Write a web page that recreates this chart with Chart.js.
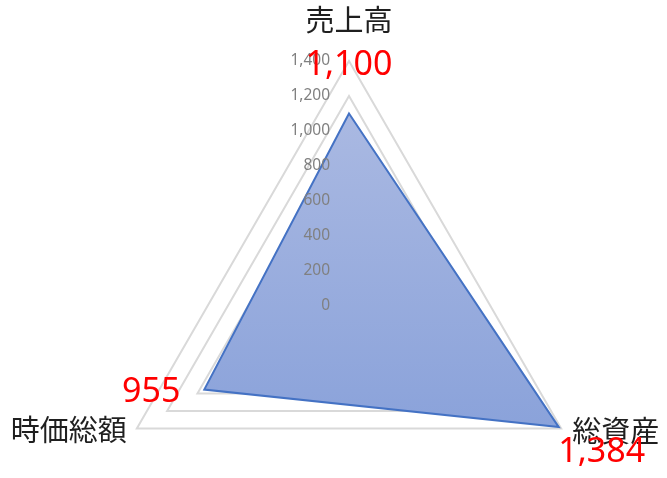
<!DOCTYPE html>
<html lang="ja">

<head>
    <meta charset="UTF-8">
    <title>Radar - 売上高 / 総資産 / 時価総額</title>
    <script src="https://cdn.jsdelivr.net/npm/chart.js@4.4.1/dist/chart.umd.min.js"></script>
    <style>
        html, body {
            margin: 0;
            padding: 0;
            background: #ffffff;
            overflow: hidden;
        }

        #wrap {
            position: relative;
            width: 667px;
            height: 612px;
        }
    </style>
</head>

<body>
    <div id="wrap">
        <canvas id="radarChart"></canvas>
    </div>

    <script>
        // data
        const categories = ['売上高', '総資産', '時価総額'];
        const values = [1100, 1384, 955];
        const tickValues = [0, 200, 400, 600, 800, 1000, 1200, 1400];

        const fmt = v => v.toLocaleString('en-US');

        // label placement relative to the axis points (layout only)
        const catLabelStyle = [
            { dx: 0, dy: -41, align: 'center' },
            { dx: 11, dy: 2, align: 'left' },
            { dx: -10, dy: 1, align: 'right' }
        ];
        const valueLabelStyle = [
            { dx: 0, dy: -48 },
            { dx: 43, dy: 25 },
            { dx: -53, dy: 3 }
        ];

        // custom text drawing: Excel-style tick labels, category names and red value labels
        const labelPlugin = {
            id: 'excelLabels',
            afterDatasetsDraw(chart) {
                const ctx = chart.ctx;
                const r = chart.scales.r;
                ctx.save();

                // tick labels, right aligned left of the vertical axis
                ctx.font = '15.5px "Noto Sans", sans-serif';
                ctx.fillStyle = '#808080';
                ctx.textAlign = 'right';
                ctx.textBaseline = 'middle';
                tickValues.forEach(v => {
                    const y = r.yCenter - r.getDistanceFromCenterForValue(v);
                    ctx.fillText(fmt(v), r.xCenter - 19, y);
                });

                // category names
                ctx.font = '29px "Noto Sans CJK JP", sans-serif';
                ctx.fillStyle = '#1f1f1f';
                categories.forEach((c, i) => {
                    const p = r.getPointPosition(i, r.drawingArea);
                    const s = catLabelStyle[i];
                    ctx.textAlign = s.align;
                    ctx.fillText(c, p.x + s.dx, p.y + s.dy);
                });

                // value labels
                ctx.font = '34px "Noto Sans", sans-serif';
                ctx.fillStyle = '#ff0000';
                ctx.textAlign = 'center';
                values.forEach((v, i) => {
                    const p = r.getPointPositionForValue(i, v);
                    const s = valueLabelStyle[i];
                    ctx.fillText(fmt(v), p.x + s.dx, p.y + s.dy);
                });

                ctx.restore();
            }
        };

        const ctxRadar = document.getElementById('radarChart').getContext('2d');
        const radarChart = new Chart(ctxRadar, {
            type: 'radar',
            data: {
                labels: categories,
                datasets: [{
                    data: values,
                    borderColor: '#4472C4',
                    borderWidth: 2,
                    pointRadius: 0,
                    fill: true,
                    backgroundColor: context => {
                        const area = context.chart.chartArea;
                        if (!area) return '#97aadc';
                        const g = context.chart.ctx.createLinearGradient(0, area.top + 50, 0, area.top + 370);
                        g.addColorStop(0, '#aab9e2');
                        g.addColorStop(1, '#8aa2da');
                        return g;
                    }
                }]
            },
            options: {
                responsive: true,
                maintainAspectRatio: false,
                animation: false,
                layout: {
                    padding: { left: 104, right: 73, top: 61, bottom: 61 }
                },
                plugins: {
                    legend: { display: false },
                    tooltip: { enabled: false }
                },
                scales: {
                    r: {
                        min: 0,
                        max: 1400,
                        ticks: {
                            stepSize: 200,
                            display: false,
                            showLabelBackdrop: false
                        },
                        grid: {
                            color: '#d9d9d9',
                            lineWidth: 2
                        },
                        angleLines: { display: false },
                        pointLabels: { display: false }
                    }
                }
            },
            plugins: [labelPlugin]
        });
    </script>
</body>

</html>
